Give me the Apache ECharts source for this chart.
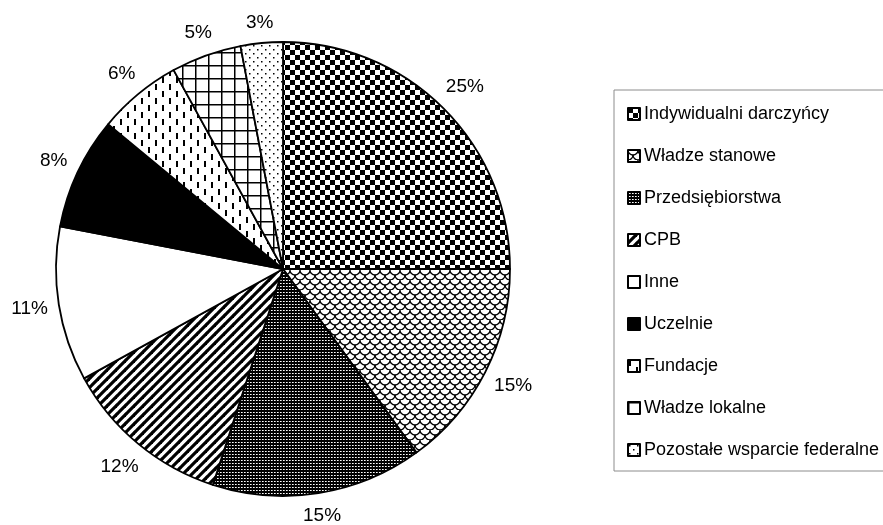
<!DOCTYPE html>
<html>
<head>
<meta charset="utf-8">
<script src="https://cdn.jsdelivr.net/npm/echarts@6/dist/echarts.min.js"></script>
<style>
  html, body { margin: 0; padding: 0; background: #fff; }
  #chart { width: 883px; height: 525px; }
</style>
</head>
<body>
<div id="chart"></div>
<script>
// Funding sources, share of total (%), clockwise from 12 o'clock
const categories = [
  'Indywidualni darczyńcy',
  'Władze stanowe',
  'Przedsiębiorstwa',
  'CPB',
  'Inne',
  'Uczelnie',
  'Fundacje',
  'Władze lokalne',
  'Pozostałe wsparcie federalne'
];
const shares = [25, 15, 15, 12, 11, 8, 6, 5, 3];

// Build a repeating monochrome fill from a small canvas tile
function tile(w, h, draw) {
  const c = document.createElement('canvas');
  c.width = w; c.height = h;
  const g = c.getContext('2d');
  g.fillStyle = '#fff';
  g.fillRect(0, 0, w, h);
  g.fillStyle = '#000';
  g.strokeStyle = '#000';
  draw(g, w, h);
  return { image: c, repeat: 'repeat' };
}

const fills = [
  // checkerboard
  tile(10, 10, g => { g.fillRect(0, 0, 5, 5); g.fillRect(5, 5, 5, 5); }),
  // fish-scale mesh
  tile(10, 10, g => {
    g.lineWidth = 1.3;
    g.beginPath(); g.arc(5, 0, 5, 0, Math.PI); g.stroke();
    g.beginPath(); g.arc(0, 5, 5, 0, Math.PI); g.stroke();
    g.beginPath(); g.arc(10, 5, 5, 0, Math.PI); g.stroke();
    g.beginPath(); g.arc(5, 10, 5, 0, Math.PI); g.stroke();
  }),
  // dense dark grid
  tile(3, 3, g => { g.fillRect(0, 0, 3, 3); g.fillStyle = '#fff'; g.fillRect(1, 1, 1, 1); g.fillStyle = '#aaa'; g.fillRect(2, 1, 1, 1); }),
  // wide diagonal stripes
  tile(9, 9, g => {
    g.lineWidth = 3.2;
    for (let k = -9; k <= 18; k += 9) {
      g.beginPath(); g.moveTo(k - 1, 10); g.lineTo(k + 10, -1); g.stroke();
    }
  }),
  // plain white
  '#ffffff',
  // solid black
  '#000000',
  // staggered vertical dashes
  tile(14, 14, g => { g.fillRect(1, 0, 2, 6); g.fillRect(8, 7, 2, 6); }),
  // square grid
  tile(13, 13, g => { g.fillRect(0, 0, 13, 1.5); g.fillRect(0, 0, 1.5, 13); }),
  // scattered dots
  tile(8, 8, g => { g.fillRect(1, 1, 1.5, 1.5); g.fillRect(5, 5, 1.5, 1.5); })
];

// Percent labels sit centred just outside the rim, pushed out along each
// slice's radial direction by the label box's extent in that direction.
const LABEL_GAP = 10;
function placeLabel(params) {
  const pts = params.labelLinePoints;
  if (!pts) return {};
  const dx = pts[1][0] - pts[0][0];
  const dy = pts[1][1] - pts[0][1];
  const len = Math.hypot(dx, dy) || 1;
  const ux = dx / len, uy = dy / len;
  const w = params.labelRect.width, h = params.labelRect.height;
  const t = LABEL_GAP + Math.abs(ux) * w / 2 + Math.abs(uy) * h / 2;
  return {
    x: pts[0][0] + ux * t,
    y: pts[0][1] + uy * t,
    align: 'center',
    verticalAlign: 'middle'
  };
}

const chart = echarts.init(document.getElementById('chart'), null, { renderer: 'canvas' });

chart.setOption({
  animation: false,
  textStyle: { fontFamily: 'Liberation Sans, Arial, sans-serif' },
  legend: {
    orient: 'vertical',
    left: 614,
    top: 90,
    padding: [15, 20, 12, 13],
    itemGap: 24,
    itemWidth: 12,
    itemHeight: 12,
    icon: 'rect',
    borderColor: '#8c8c8c',
    borderWidth: 1,
    textStyle: { fontSize: 18, color: '#000', padding: [0, 0, 0, -1] },
    data: categories
  },
  series: [{
    type: 'pie',
    center: [283, 269],
    radius: [0, 227],
    startAngle: 90,
    clockwise: true,
    avoidLabelOverlap: false,
    itemStyle: { borderColor: '#000', borderWidth: 1.8 },
    label: {
      show: true,
      position: 'outside',
      formatter: p => p.value + '%',
      fontSize: 19,
      color: '#000'
    },
    labelLine: { show: true, length: 12, length2: 0, lineStyle: { opacity: 0 } },
    labelLayout: placeLabel,
    emphasis: { disabled: true },
    data: categories.map((name, i) => ({
      name,
      value: shares[i],
      itemStyle: { color: fills[i] }
    }))
  }]
});
</script>
</body>
</html>
